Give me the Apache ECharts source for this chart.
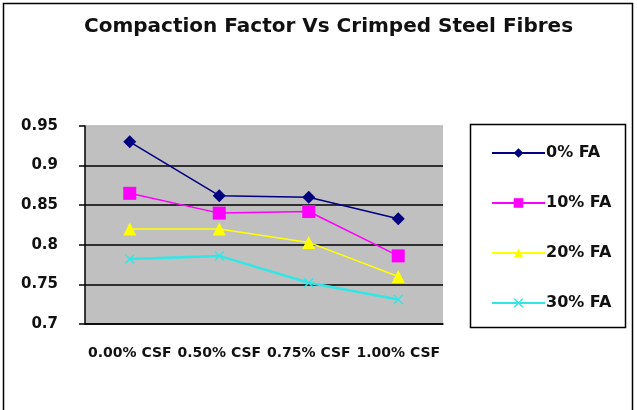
<!DOCTYPE html>
<html>
<head>
<meta charset="utf-8">
<script src="https://cdn.jsdelivr.net/npm/echarts@6/dist/echarts.min.js"></script>
<style>
  html, body { margin: 0; padding: 0; background: #fff; }
  #chart { width: 637px; height: 410px; }
</style>
</head>
<body>
<div id="chart"></div>
<script>
// chart data
const categories = ['0.00% CSF', '0.50% CSF', '0.75% CSF', '1.00% CSF']
const fa0 = [0.930, 0.862, 0.860, 0.833]
const fa10 = [0.865, 0.840, 0.842, 0.786]
const fa20 = [0.820, 0.820, 0.803, 0.760]
const fa30 = [0.782, 0.786, 0.752, 0.731]
const seriesNames = ['0% FA', '10% FA', '20% FA', '30% FA']

const font = 'DejaVu Sans'
const crossPath = 'path://M0,1L1,0L5,4L9,0L10,1L6,5L10,9L9,10L5,6L1,10L0,9L4,5Z'

const chart = echarts.init(document.getElementById('chart'), null, { renderer: 'canvas' })

function line(name, data, color, symbol, size, width) {
  return {
    name: name,
    type: 'line',
    data: data,
    symbol: symbol,
    symbolSize: size,
    showSymbol: true,
    animation: false,
    lineStyle: { color: color, width: width },
    itemStyle: { color: color }
  }
}

chart.setOption({
  backgroundColor: '#fff',
  title: {
    text: 'Compaction Factor Vs Crimped Steel Fibres',
    left: 79,
    top: 12,
    textStyle: { fontFamily: font, fontSize: 20, fontWeight: 'bold', color: '#111' }
  },
  graphic: [{
    type: 'rect',
    shape: { x: 3.5, y: 3.5, width: 629, height: 430 },
    style: { fill: 'none', stroke: '#000', lineWidth: 1.5 },
    silent: true
  }, {
    type: 'rect',
    shape: { x: 470.5, y: 124.5, width: 155, height: 203 },
    style: { fill: 'none', stroke: '#000', lineWidth: 1.5 },
    silent: true
  }],
  legend: {
    orient: 'vertical',
    left: 486,
    top: 140,
    itemWidth: 53,
    itemHeight: 12,
    itemGap: 34,
    textStyle: { fontFamily: font, fontSize: 16, fontWeight: 'bold', color: '#111', padding: [0, 0, 0, -4] },
    data: seriesNames
  },
  grid: {
    left: 85,
    top: 126,
    width: 358,
    height: 198,
    show: true,
    backgroundColor: '#c0c0c0',
    borderWidth: 0
  },
  xAxis: {
    type: 'category',
    data: categories,
    axisLine: { lineStyle: { color: '#000', width: 1.5 } },
    axisTick: { length: 6, lineStyle: { color: '#000', width: 1.5 } },
    axisLabel: {
      interval: 0,
      margin: 22,
      fontFamily: font,
      fontSize: 14,
      fontWeight: 'bold',
      color: '#111'
    }
  },
  yAxis: {
    type: 'value',
    min: 0.7,
    max: 0.95,
    interval: 0.05,
    axisLine: { show: true, lineStyle: { color: '#000', width: 1.5 } },
    axisTick: { show: true, length: 6, lineStyle: { color: '#000', width: 1.5 } },
    splitLine: {
      show: true,
      lineStyle: { color: ['#000', '#000', '#000', '#000', '#000', '#b8b8b8'], width: 1.5 }
    },
    axisLabel: {
      margin: 27,
      fontFamily: font,
      fontSize: 15,
      fontWeight: 'bold',
      color: '#111',
      formatter: function (v) { return String(parseFloat(v.toFixed(2))) }
    }
  },
  series: [
    line(seriesNames[0], fa0, '#000080', 'diamond', 13, 1.5),
    line(seriesNames[1], fa10, '#ff00ff', 'rect', 13, 1.5),
    line(seriesNames[2], fa20, '#ffff00', 'triangle', 13, 1.5),
    line(seriesNames[3], fa30, '#33e6e6', crossPath, 10, 2.5)
  ]
})
</script>
</body>
</html>
